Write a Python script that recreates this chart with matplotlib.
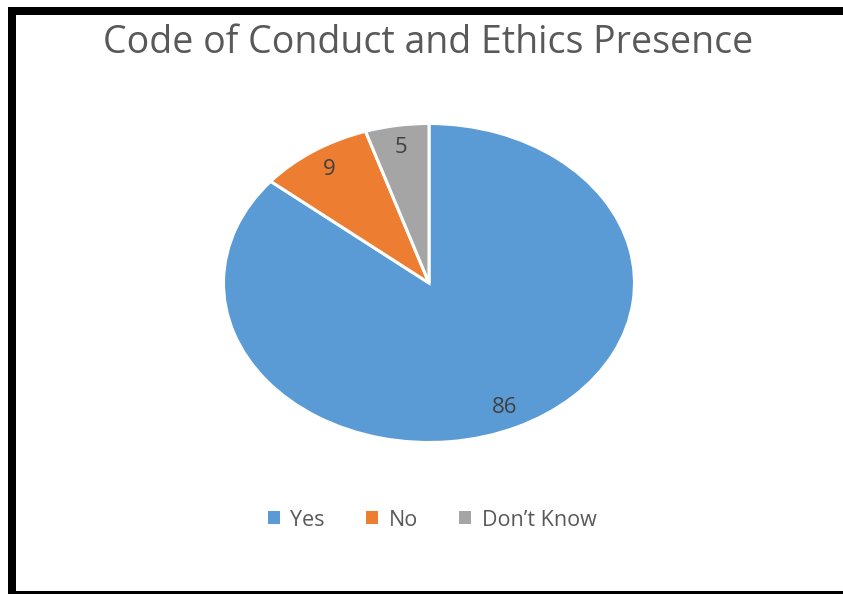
import matplotlib.pyplot as plt
from matplotlib.patches import Rectangle

labels = ["Yes", "No", "Don\u2019t Know"]
counts = [86, 9, 5]
colors = ["#5B9BD5", "#ED7D31", "#A5A5A5"]
title = "Code of Conduct and Ethics Presence"

plt.rcParams["font.family"] = ["Open Sans", "DejaVu Sans"]

W, H = 843, 594
fig = plt.figure(figsize=(W / 100, H / 100), dpi=100)

# black frame on the top, left and bottom edges
frame = dict(color="black", lw=0, transform=fig.transFigure)
fig.add_artist(Rectangle((8 / W, 1 - 15 / H), 1 - 8 / W, 8 / H, **frame))
fig.add_artist(Rectangle((8 / W, 0), 8 / W, 1 - 7 / H, **frame))
fig.add_artist(Rectangle((8 / W, 0), 1 - 8 / W, 3 / H, **frame))

# pie box (pixels): centre and radii, the pie is a bit wider than tall
cx, cy, rx, ry = 429, 283, 205.5, 159.5
ax = fig.add_axes([(cx - rx) / W, (H - cy - ry) / H, 2 * rx / W, 2 * ry / H])
total = sum(counts)
wedges, texts, autotexts = ax.pie(
    counts, colors=colors, startangle=90, counterclock=False,
    autopct=lambda p: f"{p * total / 100:.0f}", pctdistance=0.86,
    wedgeprops=dict(edgecolor="white", linewidth=2.2),
    textprops=dict(color="#404040", fontsize=16))
for w in wedges:
    w.set_clip_on(False)
ax.set_aspect("auto")
ax.set_xlim(-1, 1)
ax.set_ylim(-1, 1)
ax.axis("off")

fig.text(428 / W, 1 - 43 / H, title, ha="center", va="center",
         fontsize=27, color="#595959")

fig.legend(wedges, labels, loc="center", bbox_to_anchor=(432 / W, 1 - 520 / H),
           ncol=3, frameon=False, fontsize=15.5, labelcolor="#595959",
           handlelength=0.56, handleheight=0.56, handletextpad=0.5,
           columnspacing=1.9)
for h in fig.legends[0].legend_handles:
    h.set_edgecolor("none")

fig.savefig("out.png", dpi=100)
